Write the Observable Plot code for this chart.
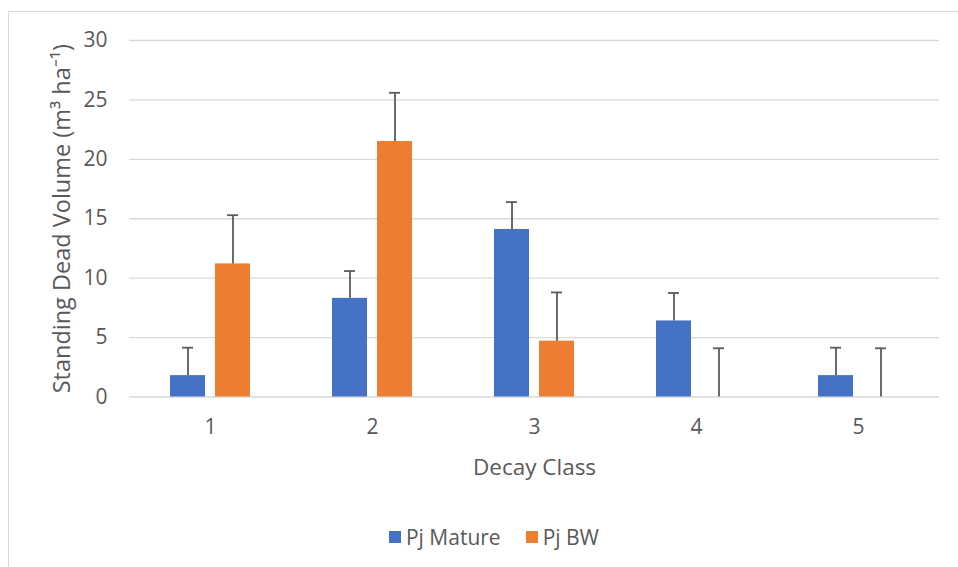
<!DOCTYPE html>
<html>
<head>
<meta charset="utf-8">
<script src="https://cdn.jsdelivr.net/npm/d3@7"></script>
<script src="https://cdn.jsdelivr.net/npm/@observablehq/plot@0.6"></script>
<style>
  html, body { margin: 0; padding: 0; background: #fff; }
  body { width: 958px; height: 567px; position: relative; overflow: hidden; font-family: "Open Sans", sans-serif; }
  #frame { position: absolute; left: 8px; top: 11px; width: 980px; height: 600px; border-left: 1.5px solid #d9d9d9; border-top: 1.5px solid #d9d9d9; }
  #chart { position: absolute; left: 0; top: 0; }
  #chart [aria-label="y-axis tick label"], #chart [aria-label="fx-axis tick label"] { font-size: 21px; }
  #chart [aria-label="fx-axis label"] { font-size: 22.5px; }
  #chart [aria-label="y-axis label"] { font-size: 23.5px; }
  #legend { position: absolute; left: 0; top: 523px; width: 928px; padding-left: 30px; display: flex; justify-content: center; gap: 25px; font-size: 21px; color: #595959; }
  .item { display: flex; align-items: center; gap: 5px; }
  .sw { width: 12px; height: 12px; display: inline-block; }
</style>
</head>
<body>
<div id="frame"></div>
<div id="chart"></div>
<div id="legend"></div>
<script>
const categories = ["1", "2", "3", "4", "5"];
const series = ["Pj Mature", "Pj BW"];
const colors = ["#4472C4", "#ED7D31"];
const matureValues = [1.8, 8.3, 14.1, 6.4, 1.8];
const matureErrors = [2.35, 2.3, 2.3, 2.35, 2.35];
const bwValues = [11.2, 21.5, 4.7, 0, 0];
const bwErrors = [4.1, 4.1, 4.1, 4.1, 4.1];
const yTicks = [0, 5, 10, 15, 20, 25, 30];

const rows = [];
categories.forEach((c, i) => {
  rows.push({category: c, series: series[0], value: matureValues[i], err: matureErrors[i]});
  rows.push({category: c, series: series[1], value: bwValues[i], err: bwErrors[i]});
});

const errColor = "#5b5b5b";
const chart = Plot.plot({
  width: 958,
  height: 500,
  marginLeft: 128,
  marginRight: 18,
  marginTop: 40,
  marginBottom: 103.5,
  style: {fontFamily: "Open Sans", fontSize: "21px", color: "#595959", background: "transparent", overflow: "visible"},
  fx: {domain: categories, padding: 0, label: "Decay Class", tickSize: 0, tickPadding: 22, labelOffset: 78, labelAnchor: "center"},
  x: {domain: series, axis: null, paddingInner: 0.217, paddingOuter: 0.874},
  y: {domain: [0, 30], ticks: yTicks, tickSize: 0, tickPadding: 22, label: "Standing Dead Volume (m³ ha⁻¹)", labelAnchor: "center", labelOffset: 76, labelArrow: "none"},
  color: {domain: series, range: colors},
  marks: [
    Plot.ruleY(yTicks, {stroke: "#d9d9d9", strokeWidth: 1.3}),
    Plot.barY(rows, {fx: "category", x: "series", y: "value", fill: "series"}),
    Plot.ruleX(rows, {fx: "category", x: "series", y1: "value", y2: d => d.value + d.err, stroke: errColor, strokeWidth: 1.8}),
    Plot.tickY(rows, {fx: "category", x: "series", y: d => d.value + d.err, stroke: errColor, strokeWidth: 1.8, insetLeft: 12, insetRight: 12})
  ]
});
document.getElementById("chart").appendChild(chart);

const legend = document.getElementById("legend");
series.forEach((s, i) => {
  const item = document.createElement("div");
  item.className = "item";
  const sw = document.createElement("span");
  sw.className = "sw";
  sw.style.background = colors[i];
  const label = document.createElement("span");
  label.textContent = s;
  item.appendChild(sw);
  item.appendChild(label);
  legend.appendChild(item);
});
</script>
</body>
</html>
